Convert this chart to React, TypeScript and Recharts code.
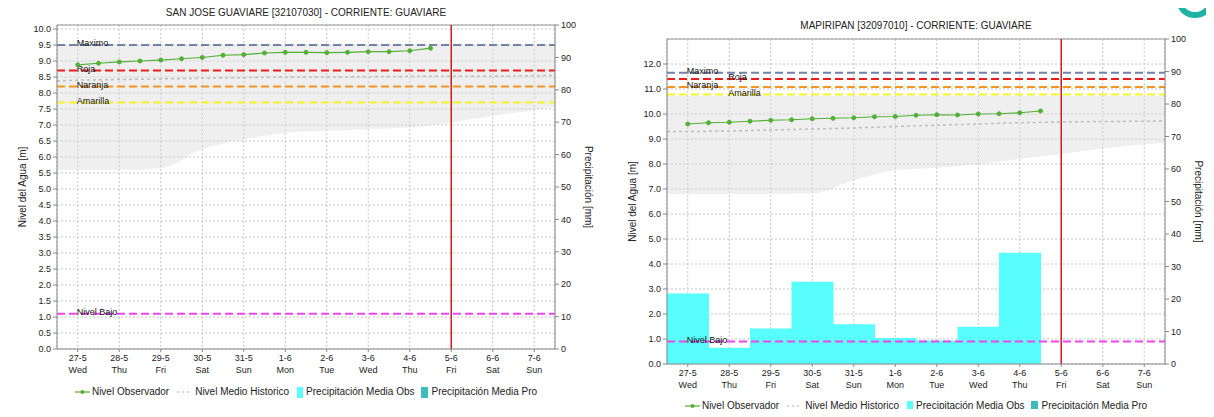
import React from 'react';
import { ComposedChart, Line, Area, Bar, XAxis, YAxis, CartesianGrid, ReferenceLine } from 'recharts';

const FONT = '"Liberation Sans", Arial, sans-serif';

// x axis: one tick per day, index 0..11
const DAYS = ['27-5', '28-5', '29-5', '30-5', '31-5', '1-6', '2-6', '3-6', '4-6', '5-6', '6-6', '7-6'];
const WEEKDAYS = ['Wed', 'Thu', 'Fri', 'Sat', 'Sun', 'Mon', 'Tue', 'Wed', 'Thu', 'Fri', 'Sat', 'Sun'];
const DAY_TICKS = [0, 1, 2, 3, 4, 5, 6, 7, 8, 9, 10, 11];
const TODAY = 9;

// observed level, every 12h from 27-5
const OBS_TIMES = [0, 0.5, 1, 1.5, 2, 2.5, 3, 3.5, 4, 4.5, 5, 5.5, 6, 6.5, 7, 7.5, 8, 8.5];
const SJ_OBS = [8.88, 8.93, 8.97, 9.0, 9.03, 9.07, 9.11, 9.18, 9.2, 9.25, 9.27, 9.27, 9.26, 9.27, 9.29, 9.29, 9.32, 9.4];
const MP_OBS = [9.6, 9.65, 9.67, 9.71, 9.75, 9.77, 9.81, 9.83, 9.85, 9.89, 9.9, 9.95, 9.97, 9.96, 10.0, 10.01, 10.05, 10.12];

// historical envelope + mean, from left edge to right edge of the plot
const HIST_TIMES = [-0.5, 0, 1, 2, 3, 4, 5, 6, 7, 8, 9, 10, 11, 11.5];
const SJ_HIST_LOW = [5.6, 5.6, 5.6, 5.65, 6.25, 6.55, 6.75, 6.82, 6.87, 6.92, 7.08, 7.28, 7.47, 7.56];
const SJ_HIST_HIGH = [9.5, 9.5, 9.5, 9.5, 9.5, 9.5, 9.5, 9.5, 9.5, 9.5, 9.5, 9.5, 9.5, 9.5];
const SJ_HIST_MEAN = [8.38, 8.4, 8.42, 8.44, 8.46, 8.48, 8.5, 8.5, 8.51, 8.52, 8.52, 8.53, 8.54, 8.55];
const MP_HIST_LOW = [6.8, 6.8, 6.8, 6.8, 6.82, 7.35, 7.75, 7.85, 8.0, 8.2, 8.4, 8.62, 8.78, 8.85];
const MP_HIST_HIGH = [10.72, 10.72, 10.72, 10.72, 10.72, 10.72, 10.72, 10.72, 10.72, 10.72, 10.72, 10.72, 10.72, 10.72];
const MP_HIST_MEAN = [9.3, 9.3, 9.32, 9.36, 9.4, 9.44, 9.5, 9.55, 9.6, 9.65, 9.68, 9.7, 9.71, 9.72];

// daily precipitation [mm]
const SJ_RAIN: (number | null)[] = [null, null, null, null, null, null, null, null, null, null, null, null];
const MP_RAIN: (number | null)[] = [21.7, 5.0, 10.9, 25.3, 12.2, 8.0, 7.2, 11.5, 34.2, null, null, null];

// alert levels
const LEVEL_NAMES = ['Maximo', 'Roja', 'Naranja', 'Amarilla', 'Nivel Bajo'];
const LEVEL_COLORS = ['#7282a8', '#ee1c1c', '#f7941d', '#f4f42a', '#ee44ee'];
const SJ_LEVELS = [9.5, 8.7, 8.2, 7.7, 1.1];
const MP_LEVELS = [11.65, 11.4, 11.08, 10.78, 0.9];

const SJ_LEVEL_TICKS = [0, 0.5, 1, 1.5, 2, 2.5, 3, 3.5, 4, 4.5, 5, 5.5, 6, 6.5, 7, 7.5, 8, 8.5, 9, 9.5, 10];
const MP_LEVEL_TICKS = [0, 1, 2, 3, 4, 5, 6, 7, 8, 9, 10, 11, 12];
const RAIN_TICKS = [0, 10, 20, 30, 40, 50, 60, 70, 80, 90, 100];

const LEGEND_LABELS = ['Nivel Observador', 'Nivel Medio Historico', 'Precipitación Media Obs', 'Precipitación Media Pro'];

const OBS_COLOR = '#52b034';
const RAIN_COLOR = '#58fdfd';
const RAIN_PRO_COLOR = '#3cbcbc';

const DayTick = (props: any) => {
  const { x, y, payload } = props;
  const i = payload.value;
  return (
    <g>
      <text x={x} y={y + 7} textAnchor="middle" fontSize={9} fill="#222" fontFamily={FONT}>{DAYS[i]}</text>
      <text x={x} y={y + 18.5} textAnchor="middle" fontSize={9} fill="#222" fontFamily={FONT}>{WEEKDAYS[i]}</text>
    </g>
  );
};

const axisTitle = (text: string, side: 'left' | 'right') => (props: any) => {
  const vb = props.viewBox;
  const cx = side === 'left' ? vb.x - 5 : vb.x + vb.width + 3;
  const cy = vb.y + vb.height / 2;
  return (
    <text
      x={cx}
      y={cy}
      transform={`rotate(${side === 'left' ? -90 : 90} ${cx} ${cy})`}
      textAnchor="middle"
      dominantBaseline="central"
      fontSize={10}
      fill="#222"
      fontFamily={FONT}
    >
      {text}
    </text>
  );
};

const levelLabel = (text: string, dx: number) => (props: any) => {
  const vb = props.viewBox;
  return (
    <text x={vb.x + dx} y={vb.y + 1} fontSize={9} fill="#111" fontFamily={FONT}>
      {text}
    </text>
  );
};

interface GaugeProps {
  width: number;
  height: number;
  margin: { top: number; right: number; bottom: number; left: number };
  obs: number[];
  histLow: number[];
  histHigh: number[];
  histMean: number[];
  rain: (number | null)[];
  levels: number[];
  labelSlots: number[];
  levelMax: number;
  levelTicks: number[];
}

const GaugeChart = ({ width, height, margin, obs, histLow, histHigh, histMean, rain, levels, labelSlots, levelMax, levelTicks }: GaugeProps) => {
  const rainRows = DAYS.map((d, i) => ({ day: d, rain: rain[i] }));
  const obsRows = OBS_TIMES.map((t, i) => ({ t, level: obs[i] }));
  const histRows = HIST_TIMES.map((t, i) => ({ t, range: [histLow[i], histHigh[i]], mean: histMean[i] }));
  const plotW = width - margin.left - margin.right - 60;
  const slotW = plotW / DAYS.length;

  return (
    <ComposedChart width={width} height={height} data={rainRows} margin={margin} barCategoryGap={0} barGap={0}>
      <CartesianGrid yAxisId="level" stroke="#c4c4c4" strokeDasharray="2 2" />
      <XAxis
        dataKey="t"
        type="number"
        domain={[-0.5, 11.5]}
        ticks={DAY_TICKS}
        interval={0}
        allowDataOverflow
        tick={<DayTick />}
        tickSize={3}
        tickMargin={2}
        height={31}
        stroke="#888"
      />
      <XAxis xAxisId="cat" dataKey="day" type="category" hide />
      <YAxis
        yAxisId="level"
        domain={[0, levelMax]}
        ticks={levelTicks}
        interval={0}
        allowDataOverflow
        tickFormatter={(v: number) => v.toFixed(1)}
        width={30}
        tickSize={4}
        tickMargin={2}
        stroke="#888"
        tick={{ fontSize: 9, fill: '#222', fontFamily: FONT }}
        label={axisTitle('Nivel del Agua [m]', 'left')}
      />
      <YAxis
        yAxisId="rain"
        orientation="right"
        type="number"
        domain={[0, 100]}
        ticks={RAIN_TICKS}
        interval={0}
        allowDataOverflow
        width={30}
        tickSize={4}
        tickMargin={2}
        stroke="#888"
        tick={{ fontSize: 9, fill: '#222', fontFamily: FONT }}
        label={axisTitle('Precipitación [mm]', 'right')}
      />
      <Area
        data={histRows}
        dataKey="range"
        yAxisId="level"
        type="monotone"
        stroke="none"
        fill="#d8d8d8"
        fillOpacity={0.42}
        isAnimationActive={false}
      />
      <Bar xAxisId="cat" yAxisId="rain" dataKey="rain" fill={RAIN_COLOR} isAnimationActive={false} />
      <Line
        data={histRows}
        dataKey="mean"
        yAxisId="level"
        type="monotone"
        stroke="#bdbdbd"
        strokeWidth={1.5}
        strokeDasharray="3 3"
        dot={false}
        isAnimationActive={false}
      />
      {levels.map((v, i) => (
        <ReferenceLine
          key={LEVEL_NAMES[i]}
          yAxisId="level"
          y={v}
          stroke={LEVEL_COLORS[i]}
          strokeWidth={2}
          strokeDasharray="8 4"
          label={levelLabel(LEVEL_NAMES[i], slotW / 2 + labelSlots[i] * slotW - 1)}
        />
      ))}
      <ReferenceLine yAxisId="level" y={levelMax} stroke="#999" strokeWidth={1} />
      <ReferenceLine yAxisId="level" x={TODAY} stroke="#cc1f1f" strokeWidth={1.5} />
      <Line
        data={obsRows}
        dataKey="level"
        yAxisId="level"
        type="linear"
        stroke={OBS_COLOR}
        strokeWidth={1.2}
        dot={{ r: 2, fill: OBS_COLOR, stroke: OBS_COLOR, strokeWidth: 1 }}
        isAnimationActive={false}
      />
    </ComposedChart>
  );
};

const LegendRow = ({ left, top, width }: { left: number; top: number; width: number }) => (
  <div
    style={{
      position: 'absolute',
      left,
      top,
      width,
      display: 'flex',
      justifyContent: 'center',
      alignItems: 'center',
      fontSize: 10,
      lineHeight: '12px',
      color: '#222',
      whiteSpace: 'nowrap',
    }}
  >
    <svg width={15} height={8} style={{ marginRight: 2 }}>
      <line x1={0} y1={4} x2={15} y2={4} stroke={OBS_COLOR} strokeWidth={1.2} />
      <circle cx={7.5} cy={4} r={2} fill={OBS_COLOR} />
    </svg>
    <span style={{ marginRight: 8 }}>{LEGEND_LABELS[0]}</span>
    <svg width={15} height={8} style={{ marginRight: 3 }}>
      <line x1={0} y1={4} x2={15} y2={4} stroke="#b0b0b0" strokeWidth={1.2} strokeDasharray="2 3" />
    </svg>
    <span style={{ marginRight: 8 }}>{LEGEND_LABELS[1]}</span>
    <span style={{ display: 'inline-block', width: 6, height: 11, background: RAIN_COLOR, marginRight: 3 }} />
    <span style={{ marginRight: 7 }}>{LEGEND_LABELS[2]}</span>
    <span style={{ display: 'inline-block', width: 7, height: 11, background: RAIN_PRO_COLOR, marginRight: 3 }} />
    <span>{LEGEND_LABELS[3]}</span>
  </div>
);

const Title = ({ text, left, top, width }: { text: string; left: number; top: number; width: number }) => (
  <div style={{ position: 'absolute', left, top, width, textAlign: 'center', fontSize: 10, lineHeight: '12px', color: '#222', whiteSpace: 'nowrap', zIndex: 2 }}>
    {text}
  </div>
);

export default function App() {
  return (
    <div style={{ position: 'relative', width: 1214, height: 417, margin: -8, background: '#fff', fontFamily: FONT, overflow: 'hidden' }}>
      <div style={{ position: 'absolute', left: 0, top: 0 }}>
        <GaugeChart
          width={607}
          height={380}
          margin={{ top: 25, right: 22, bottom: 0, left: 27 }}
          obs={SJ_OBS}
          histLow={SJ_HIST_LOW}
          histHigh={SJ_HIST_HIGH}
          histMean={SJ_HIST_MEAN}
          rain={SJ_RAIN}
          levels={SJ_LEVELS}
          labelSlots={[0, 0, 0, 0, 0]}
          levelMax={10.125}
          levelTicks={SJ_LEVEL_TICKS}
        />
      </div>
      <Title text="SAN JOSE GUAVIARE [32107030] - CORRIENTE: GUAVIARE" left={57} top={7} width={498} />
      <LegendRow left={57} top={386} width={498} />

      <div style={{ position: 'absolute', left: 610, top: 0 }}>
        <GaugeChart
          width={604}
          height={395}
          margin={{ top: 39, right: 19, bottom: 0, left: 27 }}
          obs={MP_OBS}
          histLow={MP_HIST_LOW}
          histHigh={MP_HIST_HIGH}
          histMean={MP_HIST_MEAN}
          rain={MP_RAIN}
          levels={MP_LEVELS}
          labelSlots={[0, 1, 0, 1, 0]}
          levelMax={13}
          levelTicks={MP_LEVEL_TICKS}
        />
      </div>
      <Title text="MAPIRIPAN [32097010] - CORRIENTE: GUAVIARE" left={667} top={20} width={498} />
      <LegendRow left={667} top={400} width={498} />

      <svg width={70} height={24} style={{ position: 'absolute', left: 1144, top: 0 }}>
        <ellipse cx={51} cy={2} rx={15} ry={13} fill="none" stroke="#1fb3a5" strokeWidth={6} />
        <circle cx={9} cy={0} r={5} fill="#1fb3a5" />
      </svg>
    </div>
  );
}
